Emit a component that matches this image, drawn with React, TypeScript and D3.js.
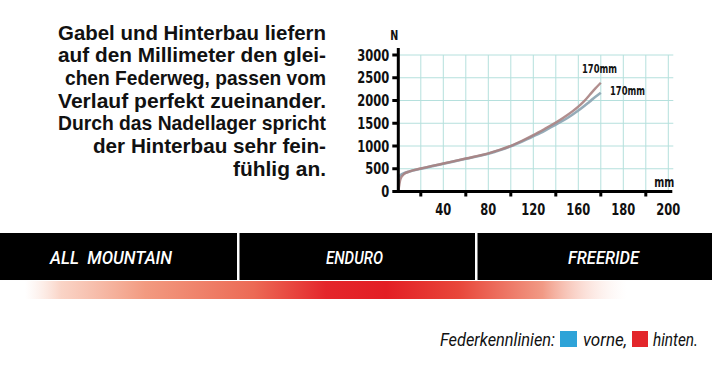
import React from "react";
import * as d3 from "d3";

// ---- data ----
const wegMm = [0, 2, 5, 10, 20, 40, 60, 80, 90, 100, 110, 120, 130, 140, 150, 160, 165, 170, 175, 180];
const kraftHinten = [0, 280, 380, 440, 505, 615, 725, 838, 915, 1005, 1115, 1240, 1375, 1515, 1675, 1865, 1980, 2120, 2260, 2390];
const kraftVorne = [320, 360, 400, 440, 500, 610, 720, 832, 908, 995, 1100, 1215, 1335, 1470, 1610, 1780, 1875, 1975, 2075, 2170];

const yTicks = [0, 500, 1000, 1500, 2000, 2500, 3000];
const xGrid = [20, 40, 60, 80, 100, 120, 140, 160, 180, 200, 220, 240];
const xLabelPos = [40, 80, 120, 160, 200, 240];
const xLabelText = ["40", "80", "120", "160", "180", "200"];
const xTickMarks = [20, 60, 100, 140, 180, 220];

const endLabels = ["170mm", "170mm"];

const paragraph = [
  "Gabel und Hinterbau liefern",
  "auf den Millimeter den glei-",
  "chen Federweg, passen vom",
  "Verlauf perfekt zueinander.",
  "Durch das Nadellager spricht",
  "der Hinterbau sehr fein-",
  "fühlig an.",
];
const paragraphLeft = [58, 58, 65, 58, 58, 93, 233];

const categories = ["ALL  MOUNTAIN", "ENDURO", "FREERIDE"];
const categoryX = [50, 326, 568];
const categoryW = [122, 57, 71];

const legendTitle = "Federkennlinien:";
const legendItems = ["vorne,", "hinten."];
const legendColors = ["#2ea3d8", "#e3262b"];

const W = 712;
const H = 376;

type SqProps = {
  x: number;
  y: number;
  w: number;
  sx: number;
  children: string;
  [k: string]: any;
};

function Sq({ x, y, w, sx, children, ...rest }: SqProps) {
  return (
    <g transform={`translate(${x},${y}) scale(${sx},1)`}>
      <text
        x={0}
        y={0}
        textLength={w / sx}
        lengthAdjust="spacingAndGlyphs"
        style={{ whiteSpace: "pre" }}
        {...rest}
      >
        {children}
      </text>
    </g>
  );
}

export default function App() {
  const x = d3.scaleLinear().domain([0, 240]).range([398.3, 668.3]);
  const y = d3.scaleLinear().domain([0, 3000]).range([191.5, 55]);

  const line = d3
    .line<number>()
    .x((_, i) => x(wegMm[i]))
    .y((d) => y(d))
    .curve(d3.curveMonotoneX);

  const paraFont = "'Liberation Sans', Arial, sans-serif";
  const boldFont = "'DejaVu Sans', sans-serif";
  const condFont = "Roboto, 'DejaVu Sans', sans-serif";
  const right = 326;
  const digitW = 8;

  return (
    <svg
      width={W}
      height={H}
      style={{ position: "absolute", left: 0, top: 0, background: "#fff" }}
    >
      <defs>
        <linearGradient id="bandGrad" x1="0" x2="1" y1="0" y2="0">
          <stop offset="0%" stopColor="#fbe0d6" stopOpacity="0" />
          <stop offset="6%" stopColor="#f9cfc0" stopOpacity="0.9" />
          <stop offset="20%" stopColor="#f29a80" />
          <stop offset="38%" stopColor="#ec6a55" />
          <stop offset="50%" stopColor="#e4262b" />
          <stop offset="60%" stopColor="#e31e24" />
          <stop offset="72%" stopColor="#e8463a" />
          <stop offset="86%" stopColor="#f19a85" />
          <stop offset="100%" stopColor="#fde8e0" stopOpacity="0" />
        </linearGradient>
      </defs>

      {/* paragraph */}
      <g fontFamily={paraFont} fontWeight="bold" fontSize={20} fill="#111">
        {paragraph.map((t, i) => (
          <Sq key={i} x={paragraphLeft[i]} y={39.5 + i * 22.7} w={right - paragraphLeft[i]} sx={0.92}>
            {t}
          </Sq>
        ))}
      </g>

      {/* grid */}
      <g stroke="#b5e0dd" strokeWidth={1}>
        {xGrid.map((v) => (
          <line key={"gx" + v} x1={x(v)} x2={x(v)} y1={y(3000)} y2={y(0)} />
        ))}
        {yTicks.filter((v) => v > 0).map((v) => (
          <line key={"gy" + v} x1={x(0)} x2={x(240) + 5} y1={y(v)} y2={y(v)} />
        ))}
      </g>

      {/* curves */}
      <path d={line(kraftVorne) || ""} fill="none" stroke="#8fa6b4" strokeWidth={2.6} opacity={0.95} />
      <path d={line(kraftHinten) || ""} fill="none" stroke="#a88282" strokeWidth={2.4} opacity={0.9} />

      {/* axes */}
      <line x1={x(0)} x2={x(0)} y1={48} y2={193} stroke="#000" strokeWidth={3} />
      <line x1={x(0) - 2} x2={x(240) + 4} y1={y(0)} y2={y(0)} stroke="#000" strokeWidth={3} />
      {yTicks.map((v) => (
        <line key={"ty" + v} x1={x(0) - 6} x2={x(0)} y1={y(v)} y2={y(v)} stroke="#000" strokeWidth={3} />
      ))}
      {xTickMarks.map((v) => (
        <line key={"tx" + v} x1={x(v)} x2={x(v)} y1={y(0)} y2={y(0) + 5} stroke="#000" strokeWidth={3} />
      ))}

      <g fontFamily={boldFont} fontWeight="bold" fill="#111">
        {yTicks.map((v) => {
          const w = String(v).length * digitW;
          return (
            <Sq key={"ly" + v} x={x(0) - 9 - w} y={y(v) + 5.5} w={w} sx={0.77} fontSize={15}>
              {String(v)}
            </Sq>
          );
        })}
        {xLabelPos.map((v, i) => {
          const w = xLabelText[i].length * digitW;
          return (
            <Sq key={"lx" + v} x={x(v) - w / 2} y={y(0) + 23} w={w} sx={0.72} fontSize={16}>
              {xLabelText[i]}
            </Sq>
          );
        })}
        <Sq x={x(0) - 8} y={40} w={8} sx={0.75} fontSize={14}>N</Sq>
        <Sq x={x(240) - 14} y={187} w={20} sx={0.75} fontSize={14}>mm</Sq>
        <Sq x={582} y={73} w={35} sx={0.6} fontSize={13}>{endLabels[0]}</Sq>
        <Sq x={610} y={95} w={35} sx={0.6} fontSize={13}>{endLabels[1]}</Sq>
      </g>

      {/* category band */}
      <rect x={0} y={233} width={W} height={47} fill="#000" />
      <rect x={237} y={233} width={2.5} height={47} fill="#fff" />
      <rect x={475} y={233} width={2.5} height={47} fill="#fff" />
      <g fontFamily={condFont} fontStyle="italic" fontWeight={500} fontSize={19} fill="#fff">
        {categories.map((c, i) => (
          <Sq key={c} x={categoryX[i]} y={264} w={categoryW[i]} sx={0.85}>
            {c}
          </Sq>
        ))}
      </g>
      <rect x={25} y={281} width={602} height={18} fill="url(#bandGrad)" />

      {/* legend */}
      <g fontFamily={condFont} fontStyle="italic" fontSize={19} fill="#111">
        <Sq x={440} y={346} w={115} sx={0.8}>{legendTitle}</Sq>
        <rect x={560} y={331} width={17} height={16} fill={legendColors[0]} />
        <Sq x={583} y={346} w={44} sx={0.85}>{legendItems[0]}</Sq>
        <rect x={632} y={331} width={16} height={16} fill={legendColors[1]} />
        <Sq x={653} y={346} w={45} sx={0.85}>{legendItems[1]}</Sq>
      </g>
    </svg>
  );
}
